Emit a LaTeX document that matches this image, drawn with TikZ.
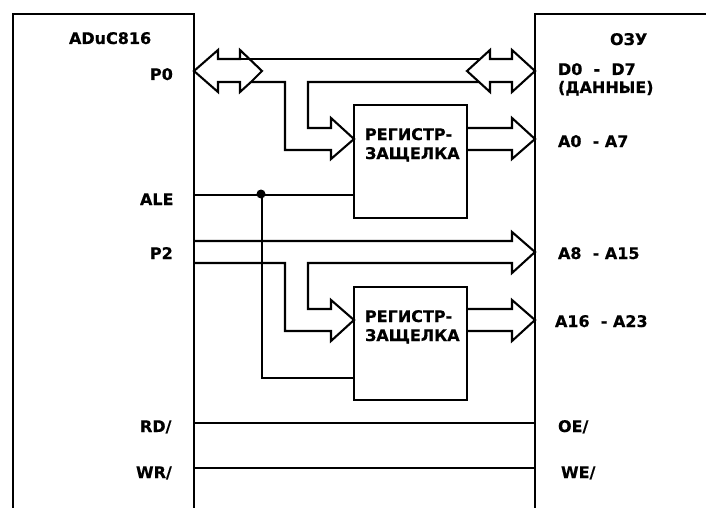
\documentclass[tikz,border=0pt]{standalone}
\usepackage{fontspec}
\setmainfont[BoldFeatures={FakeBold=0.4}]{DejaVu Sans}
\tikzset{
  wire/.style={line width=2.1pt,black,line join=miter},
  lbl/.style={anchor=base west,inner sep=0pt,outer sep=0pt,font=\fontsize{16}{16}\selectfont\bfseries},
  regbox/.style={draw,line width=2.1pt,minimum width=113pt,minimum height=113pt,inner sep=0pt,outer sep=0pt,anchor=north west},
  junction/.style={circle,fill=black,inner sep=0pt,minimum size=9pt}
}
\begin{document}
\begin{tikzpicture}[x=1pt,y=-1pt]
\useasboundingbox (0,0) rectangle (706,508);
\fill[white] (0,0) rectangle (706,508);
% named points
\coordinate (mcuBL) at (13,508);
\coordinate (mcuTL) at (13,14);
\coordinate (mcuTR) at (194,14);
\coordinate (mcuBR) at (194,508);
\coordinate (ramBL) at (535,508);
\coordinate (ramTL) at (535,14);
\coordinate (ramTR) at (706,14);
\node[regbox] (regA) at (354,105) {};
\node[regbox] (regB) at (354,287) {};
% chips
\draw[wire] (mcuBL) -- (mcuTL) -- (mcuTR) -- (mcuBR);
\draw[wire] (ramBL) -- (ramTL) -- (ramTR);
% data bus: double arrow at P0 and at D0-D7
\draw[wire] (240,59) -- (240,50) -- (262,71) -- (251,82) -- (240,92) -- (240,82) -- (218,82) -- (218,92) -- (194,71) -- (218,50) -- (218,59) -- cycle;
\draw[wire] (512,59) -- (512,50) -- (535,71) -- (512,92) -- (512,82) -- (490,82) -- (490,92) -- (467,71) -- (490,50) -- (490,59) -- cycle;
\draw[wire] (240,59) -- (479,59);
\draw[wire] (251,82) -- (285,82) -- (285,150) -- (331,150) -- (331,159) -- (354,139) -- (331,118) -- (331,128) -- (308,128) -- (308,82) -- (479,82);
% register A output
\draw[wire] (regA.north east |- 0,128) -- (512,128) -- (512,118) -- (535,139) -- (512,159) -- (512,150) -- (regA.north east |- 0,150);
% ALE
\draw[wire] (mcuTR |- 0,195) -- (regA.west |- 0,195);
\node[junction] (dot) at (261,194) {};
\draw[wire] (262,195) -- (262,378) -- (regB.west |- 0,378);
% P2 bus
\draw[wire] (mcuTR |- 0,241) -- (512,241) -- (512,232) -- (535,252) -- (512,273) -- (512,263) -- (308,263) -- (308,309) -- (331,309) -- (331,300) -- (354,320) -- (331,341) -- (331,331) -- (285,331) -- (285,263) -- (mcuTR |- 0,263);
% register B output
\draw[wire] (regB.north east |- 0,309) -- (512,309) -- (512,300) -- (535,320) -- (512,341) -- (512,331) -- (regB.north east |- 0,331);
% control
\draw[wire] (mcuTR |- 0,423) -- (ramTL |- 0,423);
\draw[wire] (mcuTR |- 0,468) -- (ramTL |- 0,468);
% labels
\node[lbl] (t1) at (69,44) {ADuC816};
\node[lbl] (t2) at (150,80) {P0};
\node[lbl] (t3) at (140,205) {ALE};
\node[lbl] (t4) at (150,259) {P2};
\node[lbl] (t5) at (140,432) {RD/};
\node[lbl] (t6) at (136,478) {WR/};
\node[lbl] (t7) at (610,45) {ОЗУ};
\node[lbl] (t8) at (558,75) {D0\ \ -\ \ D7};
\node[lbl] (t9) at (558,93) {(ДАННЫЕ)};
\node[lbl] (t10) at (558,147) {A0\ \ -\ A7};
\node[lbl] (t11) at (558,259) {A8\ \ -\ A15};
\node[lbl] (t12) at (555,327) {A16\ \ -\ A23};
\node[lbl] (t13) at (558,432) {OE/};
\node[lbl] (t14) at (561,478) {WE/};
\node[lbl] (t15) at (365,140) {РЕГИСТР-};
\node[lbl] (t16) at (365,159) {ЗАЩЕЛКА};
\node[lbl] (t17) at (365,322) {РЕГИСТР-};
\node[lbl] (t18) at (365,341) {ЗАЩЕЛКА};
\end{tikzpicture}
\end{document}
